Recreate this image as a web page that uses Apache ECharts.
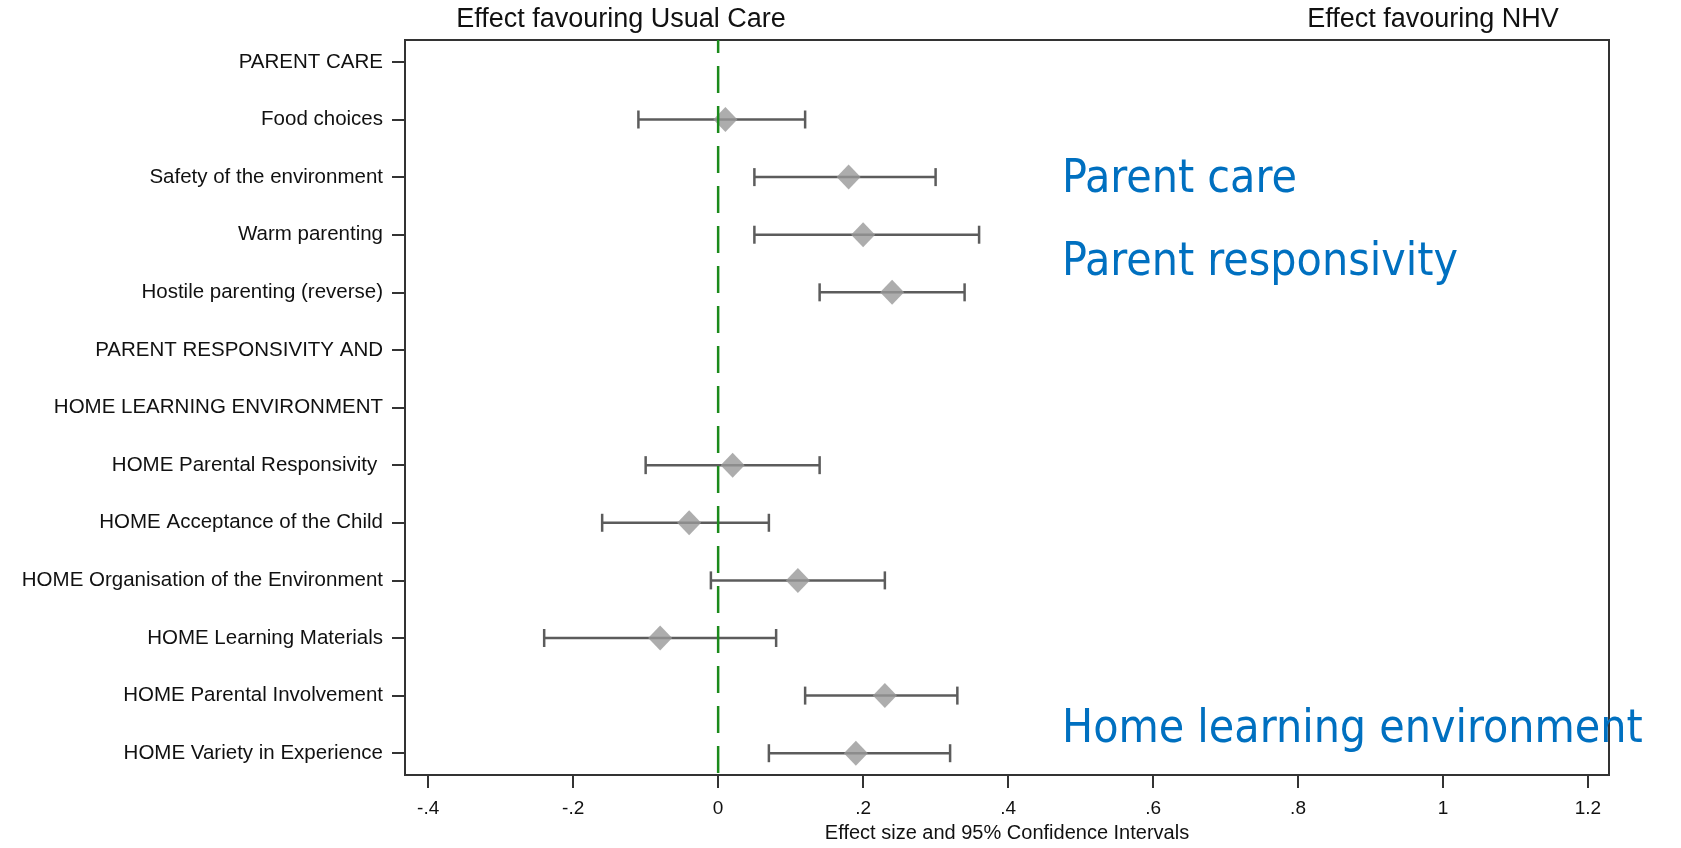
<!DOCTYPE html>
<html>
<head>
<meta charset="utf-8">
<title>Forest plot</title>
<script src="https://cdn.jsdelivr.net/npm/echarts@6/dist/echarts.min.js"></script>
<style>
  html, body { margin: 0; padding: 0; background: #fff; }
  #main { width: 1681px; height: 848px; }
</style>
</head>
<body>
<div id="main"></div>
<script>
// rows top to bottom, header rows have no estimate
var rowLabels = [
  'PARENT CARE',
  'Food choices',
  'Safety of the environment',
  'Warm parenting',
  'Hostile parenting (reverse)',
  'PARENT RESPONSIVITY AND',
  'HOME LEARNING ENVIRONMENT',
  'HOME Parental Responsivity ',
  'HOME Acceptance of the Child',
  'HOME Organisation of the Environment',
  'HOME Learning Materials',
  'HOME Parental Involvement',
  'HOME Variety in Experience'
];
var estimates = [null, 0.01, 0.18, 0.20, 0.24, null, null, 0.02, -0.04, 0.11, -0.08, 0.23, 0.19];
var lowerCI   = [null, -0.11, 0.05, 0.05, 0.14, null, null, -0.10, -0.16, -0.01, -0.24, 0.12, 0.07];
var upperCI   = [null, 0.12, 0.30, 0.36, 0.34, null, null, 0.14, 0.07, 0.23, 0.08, 0.33, 0.32];

var xTickValues = [-0.4, -0.2, 0, 0.2, 0.4, 0.6, 0.8, 1, 1.2];
var xTickLabels = ['-.4', '-.2', '0', '.2', '.4', '.6', '.8', '1', '1.2'];
var zeroLine = 0;

var rowIndex = rowLabels.map(function (d, i) { return i; });
var ciData = [];
var pointData = [];
rowLabels.forEach(function (d, i) {
  if (estimates[i] === null) return;
  ciData.push([i, lowerCI[i], upperCI[i]]);
  pointData.push([estimates[i], i]);
});

var myChart = echarts.init(document.getElementById('main'));
var font = "'Liberation Sans', Arial, sans-serif";
var blueFont = "'DejaVu Sans Condensed', 'DejaVu Sans', sans-serif";

myChart.setOption({
  animation: false,
  grid: {
    left: 405, right: 72, top: 40, bottom: 69,
    show: true, borderColor: '#333', borderWidth: 2
  },
  xAxis: {
    type: 'value',
    min: -0.432,
    max: 1.229,
    splitLine: { show: false },
    axisLine: { show: true, onZero: false, lineStyle: { color: '#333', width: 2 } },
    axisTick: { show: true, length: 13, customValues: xTickValues, lineStyle: { color: '#333', width: 2 } },
    axisLabel: {
      customValues: xTickValues,
      margin: 24,
      fontSize: 19,
      fontFamily: font,
      color: '#111',
      formatter: function (v) {
        var i = xTickValues.findIndex(function (t) { return Math.abs(t - v) < 1e-9; });
        return i >= 0 ? xTickLabels[i] : '';
      }
    },
    name: 'Effect size and 95% Confidence Intervals',
    nameLocation: 'middle',
    nameGap: 44,
    nameTextStyle: { fontSize: 20, fontFamily: font, color: '#111' }
  },
  yAxis: {
    type: 'value',
    inverse: true,
    min: -0.38,
    max: 12.38,
    splitLine: { show: false },
    axisLine: { show: true, onZero: false, lineStyle: { color: '#333', width: 2 } },
    axisTick: { show: true, length: 13, customValues: rowIndex, lineStyle: { color: '#333', width: 2 } },
    axisLabel: {
      customValues: rowIndex,
      margin: 22,
      fontSize: 20.5,
      fontFamily: font,
      color: '#111',
      formatter: function (v) { return rowLabels[Math.round(v)]; }
    }
  },
  series: [
    {
      type: 'custom',
      name: 'CI',
      data: ciData,
      encode: { x: [1, 2], y: 0 },
      z: 2,
      renderItem: function (params, api) {
        var y = api.value(0);
        var lo = api.coord([api.value(1), y]);
        var hi = api.coord([api.value(2), y]);
        var h = 9;
        var st = { stroke: '#5c5c5c', lineWidth: 2.5 };
        return {
          type: 'group',
          children: [
            { type: 'line', shape: { x1: lo[0], y1: lo[1], x2: hi[0], y2: hi[1] }, style: st },
            { type: 'line', shape: { x1: lo[0], y1: lo[1] - h, x2: lo[0], y2: lo[1] + h }, style: st },
            { type: 'line', shape: { x1: hi[0], y1: hi[1] - h, x2: hi[0], y2: hi[1] + h }, style: st }
          ]
        };
      }
    },
    {
      type: 'scatter',
      name: 'Effect',
      data: pointData,
      symbol: 'diamond',
      symbolSize: [24, 25],
      itemStyle: { color: '#999999' },
      z: 3
    },
    {
      type: 'line',
      name: 'zero',
      data: [[zeroLine, -0.38], [zeroLine, 12.38]],
      symbol: 'none',
      silent: true,
      z: 4,
      lineStyle: { color: '#1b8a1b', width: 2.5, type: [27, 13], dashOffset: 14 }
    }
  ],
  graphic: [
    { type: 'text', x: 621, y: 20, style: { text: 'Effect favouring Usual Care', fontSize: 27, fontFamily: font, fill: '#111', align: 'center', verticalAlign: 'middle' } },
    { type: 'text', x: 1433, y: 20, style: { text: 'Effect favouring NHV', fontSize: 27, fontFamily: font, fill: '#111', align: 'center', verticalAlign: 'middle' } },
    { type: 'text', x: 1062, y: 180, z: 10, style: { text: 'Parent care', fontSize: 46, fontFamily: blueFont, fill: '#0070C0', align: 'left', verticalAlign: 'middle' } },
    { type: 'text', x: 1062, y: 263, z: 10, style: { text: 'Parent responsivity', fontSize: 46, fontFamily: blueFont, fill: '#0070C0', align: 'left', verticalAlign: 'middle' } },
    { type: 'text', x: 1062, y: 730, z: 10, style: { text: 'Home learning environment', fontSize: 46, fontFamily: blueFont, fill: '#0070C0', align: 'left', verticalAlign: 'middle' } }
  ]
});
</script>
</body>
</html>
